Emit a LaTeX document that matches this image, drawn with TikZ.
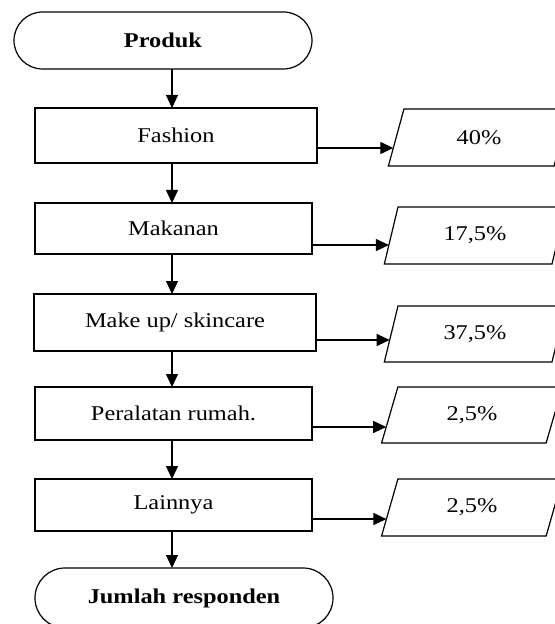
\documentclass[tikz,border=0pt]{standalone}
\usepackage{fontspec}
\setmainfont{Liberation Serif}[FakeStretch=1.16]
\usetikzlibrary{shapes.geometric,shapes.misc,arrows.meta,calc}
\begin{document}
\begin{tikzpicture}[x=1bp,y=-1bp,
  every node/.style={inner sep=0pt, outer sep=0pt},
  lw/.style={line width=1.2bp},
  term/.style={draw, lw, rounded rectangle, font=\fontsize{21bp}{25bp}\selectfont\bfseries},
  proc/.style={draw, lw, rectangle, font=\fontsize{21bp}{25bp}\selectfont},
  io/.style={draw, lw, trapezium, trapezium left angle=72, trapezium right angle=108,
    trapezium stretches=true, minimum width=182bp, minimum height=57bp,
    font=\fontsize{21bp}{25bp}\selectfont},
  arr/.style={lw, -{Triangle[length=13bp,width=12bp]}}]
\useasboundingbox (0,0) rectangle (555,624);
\coordinate (cx) at (172,0);
% left column
\node[term, minimum width=298bp, minimum height=57bp] (produk) at (163,40.5) {Produk};
\node[proc, minimum width=282bp, minimum height=55bp] (fashion) at (176,135.5) {Fashion};
\node[proc, minimum width=277bp, minimum height=51bp] (makanan) at (173.5,228.5) {Makanan};
\node[proc, minimum width=282bp, minimum height=57bp] (makeup) at (175,322.5) {Make up/ skincare};
\node[proc, minimum width=277bp, minimum height=53bp] (peralatan) at (173.5,413.5) {Peralatan rumah.};
\node[proc, minimum width=277bp, minimum height=52bp] (lainnya) at (173.5,505) {Lainnya};
\node[term, minimum width=298bp, minimum height=60bp] (jumlah) at (184,598) {Jumlah responden};
% right column
\node[io] (p1) at (479,137.5) {40\%};
\node[io] (p2) at (475,235.5) {17,5\%};
\node[io, minimum height=56bp] (p3) at (475,334) {37,5\%};
\node[io, minimum height=56bp] (p4) at (472,415) {2,5\%};
\node[io] (p5) at (472,507.5) {2,5\%};
% vertical arrows
\draw[arr] (produk.south -| cx) -- (fashion.north -| cx);
\draw[arr] (fashion.south -| cx) -- (makanan.north -| cx);
\draw[arr] (makanan.south -| cx) -- (makeup.north -| cx);
\draw[arr] (makeup.south -| cx) -- (peralatan.north -| cx);
\draw[arr] (peralatan.south -| cx) -- (lainnya.north -| cx);
\draw[arr] (lainnya.south -| cx) -- (jumlah.north -| cx);
% horizontal arrows
\coordinate (e1) at ($(p1.bottom left corner)!0.316!(p1.top left corner)$);
\coordinate (e2) at ($(p2.bottom left corner)!0.333!(p2.top left corner)$);
\coordinate (e3) at ($(p3.bottom left corner)!0.393!(p3.top left corner)$);
\coordinate (e4) at ($(p4.bottom left corner)!0.286!(p4.top left corner)$);
\coordinate (e5) at ($(p5.bottom left corner)!0.298!(p5.top left corner)$);
\draw[arr] (fashion.east |- e1) -- (e1);
\draw[arr] (makanan.east |- e2) -- (e2);
\draw[arr] (makeup.east |- e3) -- (e3);
\draw[arr] (peralatan.east |- e4) -- (e4);
\draw[arr] (lainnya.east |- e5) -- (e5);
\end{tikzpicture}
\end{document}
